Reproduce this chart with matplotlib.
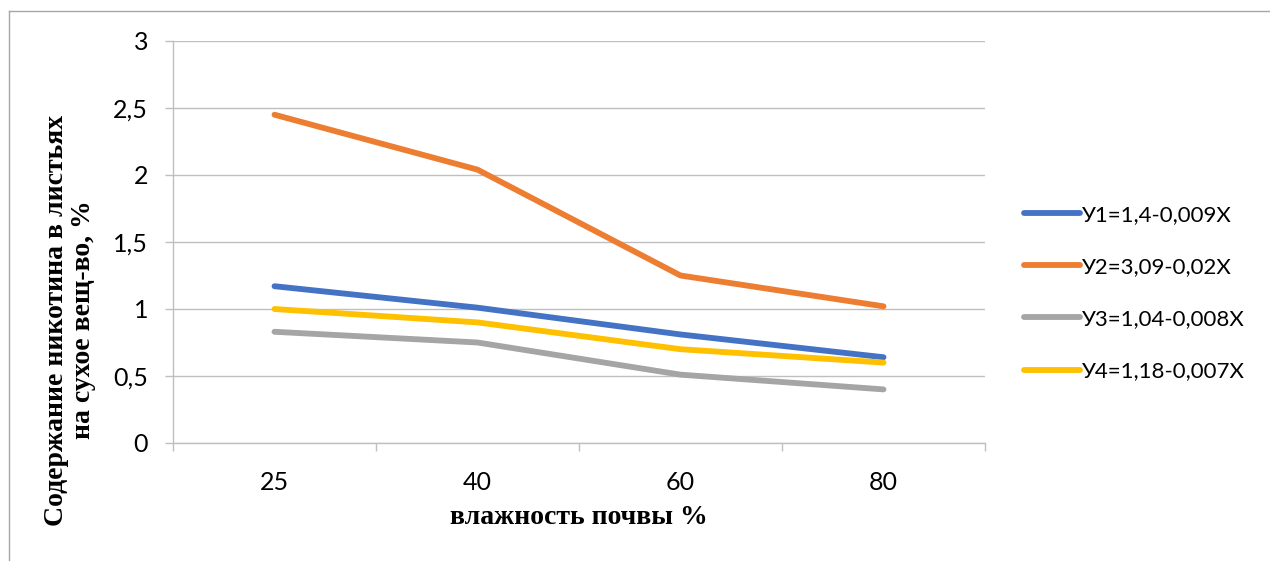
# Nicotine content vs soil moisture, recreated from reference chart

import matplotlib
matplotlib.use("Agg")
import matplotlib.pyplot as plt
from matplotlib.lines import Line2D

# Data
moisture = ["25", "40", "60", "80"]
y1 = [1.17, 1.01, 0.81, 0.64]
y2 = [2.45, 2.04, 1.25, 1.02]
y3 = [0.83, 0.75, 0.51, 0.40]
y4 = [1.00, 0.90, 0.70, 0.60]
series_labels = ["У1=1,4-0,009Х", "У2=3,09-0,02Х", "У3=1,04-0,008Х", "У4=1,18-0,007Х"]
series_colors = ["#4472C4", "#ED7D31", "#A5A5A5", "#FFC000"]
y_ticks = [0, 0.5, 1, 1.5, 2, 2.5, 3]
y_tick_labels = ["0", "0,5", "1", "1,5", "2", "2,5", "3"]

W, H = 1270, 561
fig = plt.figure(figsize=(W / 100, H / 100), dpi=100)
ax = fig.add_axes([173 / W, 1 - 443 / H, (985 - 173) / W, (443 - 41) / H])

xs = list(range(len(moisture)))
for vals, lab, col in zip([y1, y2, y3, y4], series_labels, series_colors):
    ax.plot(xs, vals, color=col, lw=4.2, solid_capstyle="round",
            solid_joinstyle="round", label=lab)

grid_col = "#BFBFBF"
ax.set_xlim(-0.5, len(moisture) - 0.5)
ax.set_ylim(0, 3)
ax.set_yticks(y_ticks)
ax.set_yticklabels(y_tick_labels, fontfamily="Lato", fontsize=18)
ax.yaxis.grid(True, color=grid_col, lw=1)
ax.set_axisbelow(True)

ax.set_xticks(xs)
ax.set_xticklabels(moisture, fontfamily="Lato", fontsize=18)
ax.set_xticks([x - 0.5 for x in range(len(moisture) + 1)], minor=True)
ax.tick_params(axis="x", which="major", length=0, pad=20)
ax.tick_params(axis="x", which="minor", length=6, color=grid_col, width=1)
ax.tick_params(axis="y", length=6, color=grid_col, width=1, pad=12)

for s in ["top", "right"]:
    ax.spines[s].set_visible(False)
for s in ["left", "bottom"]:
    ax.spines[s].set_color(grid_col)
    ax.spines[s].set_linewidth(1)

# axis titles
fig.text(579 / W, 1 - 518 / H, "влажность почвы %", ha="center", va="center",
         fontfamily="Liberation Serif", fontweight="bold", fontsize=20)
fig.text(70 / W, 1 - 320 / H, "Содержание никотина в листьях\nна сухое вещ-во, %",
         ha="center", va="center", rotation=90, linespacing=1.1,
         fontfamily="Liberation Serif", fontweight="bold", fontsize=20)

# legend
fig.legend(loc="center left", bbox_to_anchor=(1004 / W, 1 - 293 / H),
           frameon=False, prop={"family": "Lato", "size": 16},
           handlelength=2.5, handletextpad=0.1, labelspacing=1.45)

# outer frame
frame_col = "#A6A6A6"
fig.add_artist(Line2D([9 / W, 1], [1 - 11 / H, 1 - 11 / H], color=frame_col, lw=1,
                      transform=fig.transFigure))
fig.add_artist(Line2D([9 / W, 9 / W], [0, 1 - 11 / H], color=frame_col, lw=1,
                      transform=fig.transFigure))

fig.savefig("out.png", dpi=100)
plt.close(fig)
